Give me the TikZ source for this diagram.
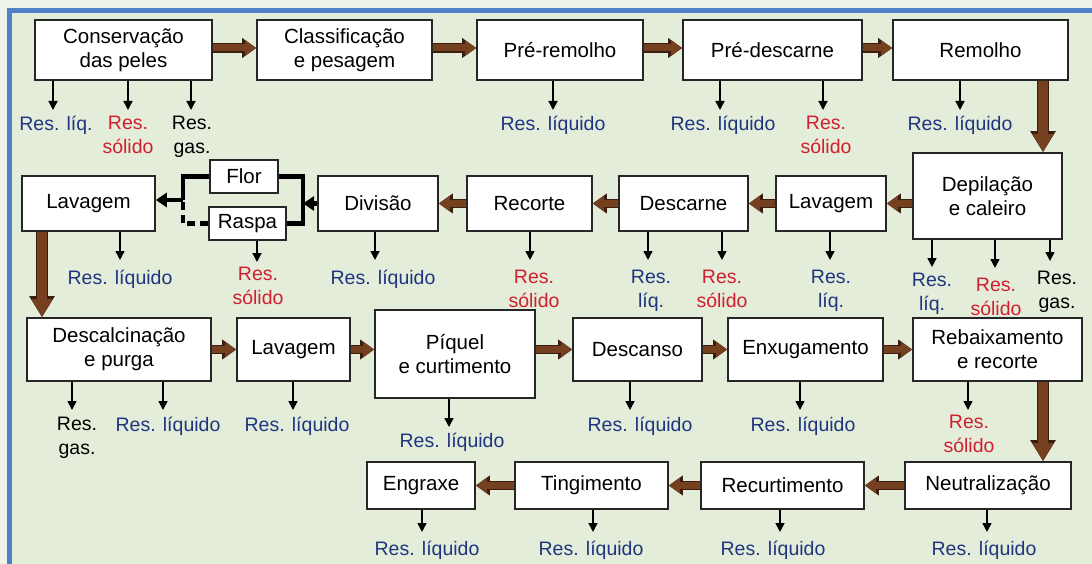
\documentclass[tikz,border=0pt]{standalone}
\usepackage{fontspec}
\setmainfont{Liberation Sans}
\usetikzlibrary{arrows.meta,calc}
\definecolor{bg}{HTML}{E3EDD9}
\definecolor{bgout}{HTML}{EEF4EA}
\definecolor{framecol}{HTML}{4F81C6}
\definecolor{brn}{HTML}{75401F}
\definecolor{brndark}{HTML}{3B1E10}
\definecolor{navy}{HTML}{1F3580}
\definecolor{rd}{HTML}{D21F2E}
\tikzset{
  bx/.style={rectangle, draw=black!85, line width=1.6pt, fill=white, inner sep=0pt,
    align=center, font=\fontsize{20.5}{24}\selectfont},
  lab/.style={anchor=north, inner sep=0pt, align=center, font=\fontsize{19.5}{23.5}\selectfont},
  resarr/.style={draw=black, line width=1.5pt, -{Triangle[width=9pt,length=9pt]}},
  flow/.style={draw=brn, line width=7pt, -{Triangle[width=15pt,length=11pt]},
    preaction={draw=brndark, line width=9.5pt, -{Triangle[width=19pt,length=14pt]}}},
  vflow/.style={draw=brn, line width=10pt, -{Triangle[width=20pt,length=18pt]},
    preaction={draw=brndark, line width=12.5pt, -{Triangle[width=24pt,length=21pt]}}},
  blk/.style={draw=black, line width=4.5pt},
  blkarr/.style={draw=black, line width=4.5pt, -{Triangle[width=14pt,length=11pt]}},
}
\newcommand\resid[8][7]{%
  \node[lab,#7] (#3) at (#5,#6) {#8};
  \draw[resarr,shorten >=#1pt] (#4,0 |- #2.south) -- (#4,0 |- #3.north);}
\begin{document}
\begin{tikzpicture}[x=1pt,y=-1pt]
\useasboundingbox (0,0) rectangle (1092,564);
\fill[bgout] (0,0) rectangle (1092,564);
\fill[bg] (7,8) rectangle (1092,564);
\fill[framecol] (7,8) rectangle (1092,13);
\fill[framecol] (7,8) rectangle (12,564);

% row 1
\node[bx, minimum width=177pt, minimum height=60pt] (cons) at (123.5,50) {Conservação\\das peles};
\node[bx, minimum width=175pt, minimum height=60pt] (class) at (344.5,50) {Classificação\\e pesagem};
\node[bx, minimum width=166pt, minimum height=60pt] (prer) at (560,50) {Pré-remolho};
\node[bx, minimum width=179pt, minimum height=60pt] (pred) at (772.5,50) {Pré-descarne};
\node[bx, minimum width=175pt, minimum height=60pt] (remo) at (980.5,50) {Remolho};

% row 2
\node[bx, minimum width=149pt, minimum height=86pt] (depil) at (987.5,196) {Depilação\\e caleiro};
\node[bx, minimum width=110pt, minimum height=55pt] (lavb) at (831,203.5) {Lavagem};
\node[bx, minimum width=129pt, minimum height=55pt] (desc) at (683.5,203.5) {Descarne};
\node[bx, minimum width=125pt, minimum height=55pt] (reco) at (529.5,203.5) {Recorte};
\node[bx, minimum width=120pt, minimum height=55pt] (divi) at (378,203.5) {Divisão};
\node[bx, minimum width=68pt, minimum height=33pt] (flor) at (244,176.5) {Flor};
\node[bx, minimum width=77pt, minimum height=33pt] (rasp) at (247.5,223.5) {Raspa};
\node[bx, minimum width=133pt, minimum height=55pt] (lava) at (88.5,203.5) {Lavagem};

% row 3
\node[bx, minimum width=184pt, minimum height=63pt] (dcal) at (119,349.5) {Descalcinação\\e purga};
\node[bx, minimum width=113pt, minimum height=63pt] (lavc) at (293.5,349.5) {Lavagem};
\node[bx, minimum width=160pt, minimum height=88pt] (piq) at (455,354) {Píquel\\e curtimento};
\node[bx, minimum width=129pt, minimum height=63pt] (dcan) at (637.5,349.5) {Descanso};
\node[bx, minimum width=155pt, minimum height=63pt] (enx) at (805.5,349.5) {Enxugamento};
\node[bx, minimum width=169pt, minimum height=63pt] (reb) at (997.5,349.5) {Rebaixamento\\e recorte};

% row 4
\node[bx, minimum width=166pt, minimum height=47pt] (neu) at (988,485.5) {Neutralização};
\node[bx, minimum width=163pt, minimum height=47pt] (recu) at (782.5,485.5) {Recurtimento};
\node[bx, minimum width=153pt, minimum height=47pt] (ting) at (591.5,485.5) {Tingimento};
\node[bx, minimum width=108pt, minimum height=47pt] (engr) at (421,485.5) {Engraxe};

% brown flow arrows
\draw[flow] ([yshift=2pt]cons.east) -- ([yshift=2pt]class.west);
\draw[flow] ([yshift=2pt]class.east) -- ([yshift=2pt]prer.west);
\draw[flow] ([yshift=2pt]prer.east) -- ([yshift=2pt]pred.west);
\draw[flow] ([yshift=2pt]pred.east) -- ([yshift=2pt]remo.west);
\coordinate (v1) at ($(remo.south)+(62.5,0)$);
\draw[vflow] (v1) -- (v1 |- depil.north);
\draw[flow] (lavb.east -| depil.west) -- (lavb.east);
\draw[flow] (lavb.west) -- (desc.east);
\draw[flow] (desc.west) -- (reco.east);
\draw[flow] (reco.west) -- (divi.east);
\coordinate (v2) at ($(lava.south)+(-46.5,0)$);
\draw[vflow] (v2) -- (v2 |- dcal.north);
\draw[flow] (dcal.east) -- (lavc.west);
\draw[flow] (lavc.east) -- (lavc.east -| piq.west);
\draw[flow] (dcan.west -| piq.east) -- (dcan.west);
\draw[flow] (dcan.east) -- (enx.west);
\draw[flow] (enx.east) -- (reb.west);
\coordinate (v3) at ($(reb.south)+(45.5,0)$);
\draw[vflow] (v3) -- (v3 |- neu.north);
\draw[flow] (neu.west) -- (recu.east);
\draw[flow] (recu.west) -- (ting.east);
\draw[flow] (ting.west) -- (engr.east);

% black connectors Flor / Raspa
\coordinate (jr) at (303,203.5);
\coordinate (jl) at (183,200);
\draw[blkarr] (divi.west) -- (jr);
\draw[blk] (flor.east) -- (flor.east -| jr) -- (rasp.east -| jr) -- (rasp.east);
\draw[blk] (flor.west) -- (flor.west -| jl) -- (jl);
\draw[blkarr] (jl) -- (jl -| lava.east);
\draw[blk, dash pattern=on 8pt off 5pt] (rasp.west) -- (rasp.west -| jl) -- (jl);

% residues row 1
\resid[6]{cons}{r1}{53}{56}{116}{navy}{Res. líq.}
\resid[6]{cons}{r2}{128}{128}{116}{rd}{Res.\\sólido}
\resid[6]{cons}{r3}{191}{192}{116}{black}{Res.\\gas.}
\resid[6]{prer}{r4}{553}{553}{116}{navy}{Res. líquido}
\resid[6]{pred}{r5}{720}{723}{116}{navy}{Res. líquido}
\resid[6]{pred}{r6}{823}{826}{116}{rd}{Res.\\sólido}
\resid[6]{remo}{r7}{960}{960}{116}{navy}{Res. líquido}

% residues row 2
\resid[6]{depil}{s1}{932}{932}{273}{navy}{Res.\\líq.}
\resid[10]{depil}{s2}{995}{996}{278}{rd}{Res.\\sólido}
\resid[10]{depil}{s3}{1050}{1057}{271}{black}{Res.\\gas.}
\resid[10]{lavb}{s4}{830}{831}{270}{navy}{Res.\\líq.}
\resid[10]{desc}{s5}{648}{651}{270}{navy}{Res.\\líq.}
\resid[10]{desc}{s6}{722}{722}{270}{rd}{Res.\\sólido}
\resid[10]{reco}{s7}{530}{534}{270}{rd}{Res.\\sólido}
\resid[10]{divi}{s8}{375}{383}{270}{navy}{Res. líquido}
\resid[5]{rasp}{s9}{257}{258}{267}{rd}{Res.\\sólido}
\resid[10]{lava}{s10}{120}{120}{270}{navy}{Res. líquido}

% residues row 3
\resid{dcal}{t1}{72}{77}{417}{black}{Res.\\gas.}
\resid{dcal}{t2}{163}{168}{417}{navy}{Res. líquido}
\resid{lavc}{t3}{293}{297}{417}{navy}{Res. líquido}
\resid[6]{piq}{t4}{449}{452}{433}{navy}{Res. líquido}
\resid{dcan}{t5}{630}{640}{417}{navy}{Res. líquido}
\resid{enx}{t6}{800}{803}{417}{navy}{Res. líquido}
\resid[5]{reb}{t7}{968}{969}{415}{rd}{Res.\\sólido}

% residues row 4
\resid[9]{engr}{u1}{422}{427}{541}{navy}{Res. líquido}
\resid[9]{ting}{u2}{593}{591}{541}{navy}{Res. líquido}
\resid[9]{recu}{u3}{780}{773}{541}{navy}{Res. líquido}
\resid[9]{neu}{u4}{987}{984}{541}{navy}{Res. líquido}
\end{tikzpicture}
\end{document}
